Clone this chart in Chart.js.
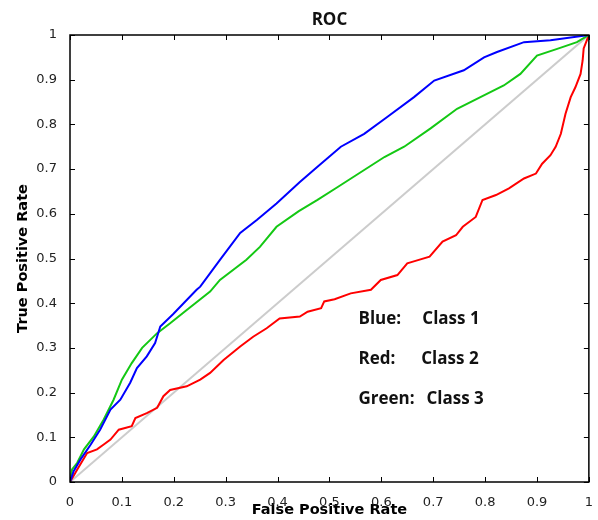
<!DOCTYPE html>
<html>
<head>
<meta charset="utf-8">
<script src="https://cdn.jsdelivr.net/npm/chart.js@4/dist/chart.umd.min.js"></script>
<style>
  html, body { margin: 0; padding: 0; background: #fff; }
  #wrap { width: 598px; height: 520px; }
</style>
</head>
<body>
<div id="wrap"><canvas id="rocChart" width="598" height="520"></canvas></div>
<script>
// ROC points (false positive rate / true positive rate)
const fprBlue = [0, 0.007, 0.02, 0.04, 0.058, 0.078, 0.097, 0.116, 0.129, 0.148, 0.164, 0.174, 0.199, 0.244, 0.251, 0.289, 0.328, 0.36, 0.398, 0.443, 0.477, 0.522, 0.567, 0.612, 0.663, 0.702, 0.759, 0.798, 0.823, 0.875, 0.926, 1];
const tprBlue = [0, 0.024, 0.05, 0.084, 0.117, 0.162, 0.184, 0.222, 0.255, 0.281, 0.311, 0.348, 0.376, 0.43, 0.437, 0.497, 0.557, 0.586, 0.623, 0.671, 0.705, 0.75, 0.779, 0.817, 0.861, 0.898, 0.921, 0.95, 0.962, 0.984, 0.988, 1];

const fprGreen = [0, 0.004, 0.014, 0.027, 0.046, 0.065, 0.084, 0.1, 0.119, 0.139, 0.168, 0.193, 0.225, 0.27, 0.289, 0.34, 0.366, 0.398, 0.441, 0.477, 0.516, 0.567, 0.606, 0.644, 0.695, 0.746, 0.791, 0.836, 0.868, 0.9, 0.939, 0.977, 1];
const tprGreen = [0, 0.028, 0.043, 0.073, 0.102, 0.14, 0.184, 0.229, 0.266, 0.3, 0.333, 0.355, 0.385, 0.426, 0.452, 0.497, 0.526, 0.571, 0.606, 0.631, 0.66, 0.698, 0.727, 0.75, 0.791, 0.835, 0.861, 0.887, 0.913, 0.954, 0.969, 0.984, 1];

const fprRed = [0, 0.014, 0.033, 0.052, 0.065, 0.078, 0.094, 0.119, 0.126, 0.148, 0.168, 0.18, 0.193, 0.225, 0.251, 0.27, 0.296, 0.328, 0.353, 0.379, 0.404, 0.443, 0.458, 0.484, 0.49, 0.51, 0.541, 0.58, 0.599, 0.631, 0.65, 0.661, 0.693, 0.718, 0.744, 0.757, 0.782, 0.795, 0.821, 0.846, 0.875, 0.898, 0.91, 0.926, 0.936, 0.946, 0.955, 0.965, 0.974, 0.984, 0.988, 0.99, 1];
const tprRed = [0, 0.028, 0.065, 0.073, 0.084, 0.095, 0.117, 0.125, 0.143, 0.154, 0.166, 0.192, 0.206, 0.214, 0.229, 0.244, 0.273, 0.303, 0.325, 0.344, 0.366, 0.37, 0.381, 0.389, 0.404, 0.409, 0.422, 0.43, 0.452, 0.463, 0.489, 0.493, 0.504, 0.538, 0.552, 0.571, 0.593, 0.631, 0.642, 0.657, 0.679, 0.69, 0.712, 0.731, 0.75, 0.779, 0.824, 0.861, 0.883, 0.913, 0.943, 0.97, 1];

// chance line
const fprChance = [0, 1];
const tprChance = [0, 1];

// tick labels
const xTickLabels = ["0", "0.1", "0.2", "0.3", "0.4", "0.5", "0.6", "0.7", "0.8", "0.9", "1"];
const yTickLabels = ["0", "0.1", "0.2", "0.3", "0.4", "0.5", "0.6", "0.7", "0.8", "0.9", "1"];

// text key inside the plot
const keyNames = ["Blue:", "Red:", "Green:"];
const keyClasses = ["Class 1", "Class 2", "Class 3"];
const chartTitle = "ROC";

const KEY_FONT = "bold 17px 'Open Sans'";

function toPoints(xs, ys) {
  return xs.map((x, i) => ({ x: x, y: ys[i] }));
}

// box round the plot with inward tick marks on all four sides
const boxTicks = {
  id: "box_ticks",
  afterDraw(chart) {
    const { ctx, chartArea, scales } = chart;
    const len = 5;
    ctx.save();
    ctx.strokeStyle = "#000";
    ctx.lineWidth = 1;
    ctx.beginPath();
    scales.x.ticks.forEach((t) => {
      const px = Math.round(scales.x.getPixelForValue(t.value)) + 0.5;
      ctx.moveTo(px, chartArea.bottom);
      ctx.lineTo(px, chartArea.bottom - len);
      ctx.moveTo(px, chartArea.top);
      ctx.lineTo(px, chartArea.top + len);
    });
    scales.y.ticks.forEach((t) => {
      const py = Math.round(scales.y.getPixelForValue(t.value)) + 0.5;
      ctx.moveTo(chartArea.left, py);
      ctx.lineTo(chartArea.left + len, py);
      ctx.moveTo(chartArea.right, py);
      ctx.lineTo(chartArea.right - len, py);
    });
    ctx.stroke();
    ctx.lineWidth = 1.5;
    ctx.strokeRect(chartArea.left, chartArea.top, chartArea.right - chartArea.left, chartArea.bottom - chartArea.top);
    ctx.restore();
  },
};

// title centred over the plot area, and the "Blue: Class 1" style key
const textKey = {
  id: "text_key",
  afterDraw(chart) {
    const { ctx, scales, chartArea } = chart;
    const nameX = 0.556;
    const classX = [0.679, 0.677, 0.687];
    const rowY = [0.354, 0.2645, 0.175];
    ctx.save();
    ctx.font = KEY_FONT;
    ctx.fillStyle = "#111";
    ctx.textBaseline = "alphabetic";
    ctx.textAlign = "center";
    ctx.fillText(chartTitle, (chartArea.left + chartArea.right) / 2, 25);
    ctx.textAlign = "left";
    keyNames.forEach((name, i) => {
      const py = scales.y.getPixelForValue(rowY[i]);
      ctx.fillText(name, scales.x.getPixelForValue(nameX), py);
      ctx.fillText(keyClasses[i], scales.x.getPixelForValue(classX[i]), py);
    });
    ctx.restore();
  },
};

function drawChart() {
  const ctx = document.getElementById("rocChart");
  new Chart(ctx, {
    type: "scatter",
    data: {
      datasets: [
        {
          label: "Class 1",
          data: toPoints(fprBlue, tprBlue),
          showLine: true,
          borderColor: "rgb(0,0,255)",
          borderWidth: 2,
          pointRadius: 0,
        },
        {
          label: "Class 3",
          data: toPoints(fprGreen, tprGreen),
          showLine: true,
          borderColor: "rgb(20,200,20)",
          borderWidth: 2,
          pointRadius: 0,
        },
        {
          label: "Class 2",
          data: toPoints(fprRed, tprRed),
          showLine: true,
          borderColor: "rgb(255,0,0)",
          borderWidth: 2,
          pointRadius: 0,
        },
        {
          label: "Chance",
          data: toPoints(fprChance, tprChance),
          showLine: true,
          borderColor: "rgb(204,204,204)",
          borderWidth: 2,
          pointRadius: 0,
        },
      ],
    },
    options: {
      responsive: false,
      animation: false,
      layout: {
        padding: { left: 0, right: 8, top: 35, bottom: 0 },
      },
      scales: {
        x: {
          type: "linear",
          min: 0,
          max: 1,
          afterFit(scale) {
            scale.height = 38;
          },
          grid: { display: false },
          border: { display: false },
          ticks: {
            stepSize: 0.1,
            padding: 5,
            color: "#222",
            font: { family: "'DejaVu Sans'", size: 13 },
            maxRotation: 0,
            autoSkip: false,
            callback: (v, i) => xTickLabels[i],
          },
          title: {
            display: true,
            text: "False Positive Rate",
            color: "#000",
            font: { family: "'DejaVu Sans'", size: 14.5, weight: "bold" },
            padding: { top: 0, bottom: 1 },
          },
        },
        y: {
          type: "linear",
          min: 0,
          max: 1,
          afterFit(scale) {
            scale.width = 70;
          },
          grid: { display: false },
          border: { display: false },
          ticks: {
            stepSize: 0.1,
            padding: 5,
            color: "#222",
            font: { family: "'DejaVu Sans'", size: 13 },
            autoSkip: false,
            callback: (v, i) => yTickLabels[i],
          },
          title: {
            display: true,
            text: "True Positive Rate",
            color: "#000",
            font: { family: "'DejaVu Sans'", size: 14.5, weight: "bold" },
            padding: { top: 15, bottom: 0 },
          },
        },
      },
      plugins: {
        legend: { display: false },
        tooltip: { enabled: false },
        title: { display: false },
      },
    },
    plugins: [boxTicks, textKey],
  });
}

// make sure the local Open Sans is ready before the canvas uses it
document.fonts.load(KEY_FONT).then(drawChart, drawChart);
</script>
</body>
</html>
